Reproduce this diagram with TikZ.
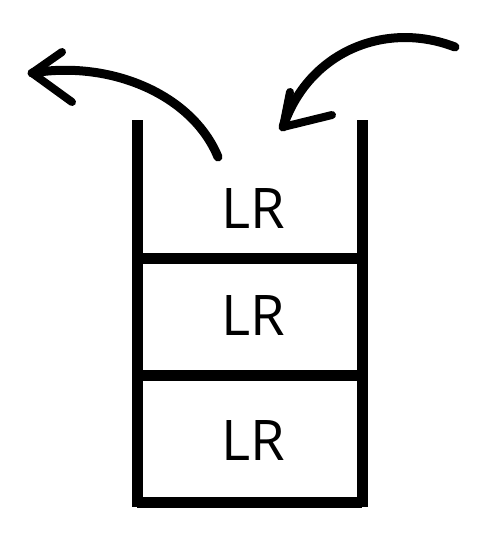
\documentclass[tikz,border=0pt]{standalone}
\usepackage{fontspec}
\setsansfont{Open Sans}
\usepackage{tikz}
\usetikzlibrary{positioning, calc}

\begin{document}
\begin{tikzpicture}[x=1pt, y=-1pt,
    every node/.style={font=\sffamily\fontsize{56}{60}\selectfont},
    wall/.style={line width=11pt},
    shelf/.style={line width=11pt},
    curve/.style={line width=9pt, line cap=round},
    barb/.style={line width=8pt, line cap=round, line join=round}]
            \useasboundingbox (0,0) rectangle (488,558);
            % Walls
            \coordinate (lefttop) at (137,120);
            \coordinate (leftbot) at (137,507);
            \coordinate (righttop) at (362,120);
            \coordinate (rightbot) at (362,507);
            \draw[wall] (lefttop) -- (leftbot);
            \draw[wall] (righttop) -- (rightbot);
            
            % Shelves
            \draw[shelf] (137,258) -- (362,258);
            \draw[shelf] (137,375) -- (362,375);
            \draw[shelf] (137,502) -- (362,502);
            
            % Labels
            \node (top) at (253,209) {LR};
            \node (middle) at (253,316) {LR};
            \node (bottom) at (253,441) {LR};
            
            % Arrows
            \coordinate (popstart) at (218,157);
            \coordinate (poptip) at (32,73);
            \draw[curve] (popstart) .. controls (192,94) and (110,60) .. (poptip);
            \draw[barb] (62,52) -- (poptip) -- (72,102);
            
            \coordinate (pushstart) at (455,47);
            \coordinate (pushtip) at (283,127);
            \draw[curve] (pushstart) .. controls (385,20) and (308,52) .. (pushtip);
            \draw[barb] (290,92) -- (pushtip) -- (332,115);
        \end{tikzpicture}
\end{document}
